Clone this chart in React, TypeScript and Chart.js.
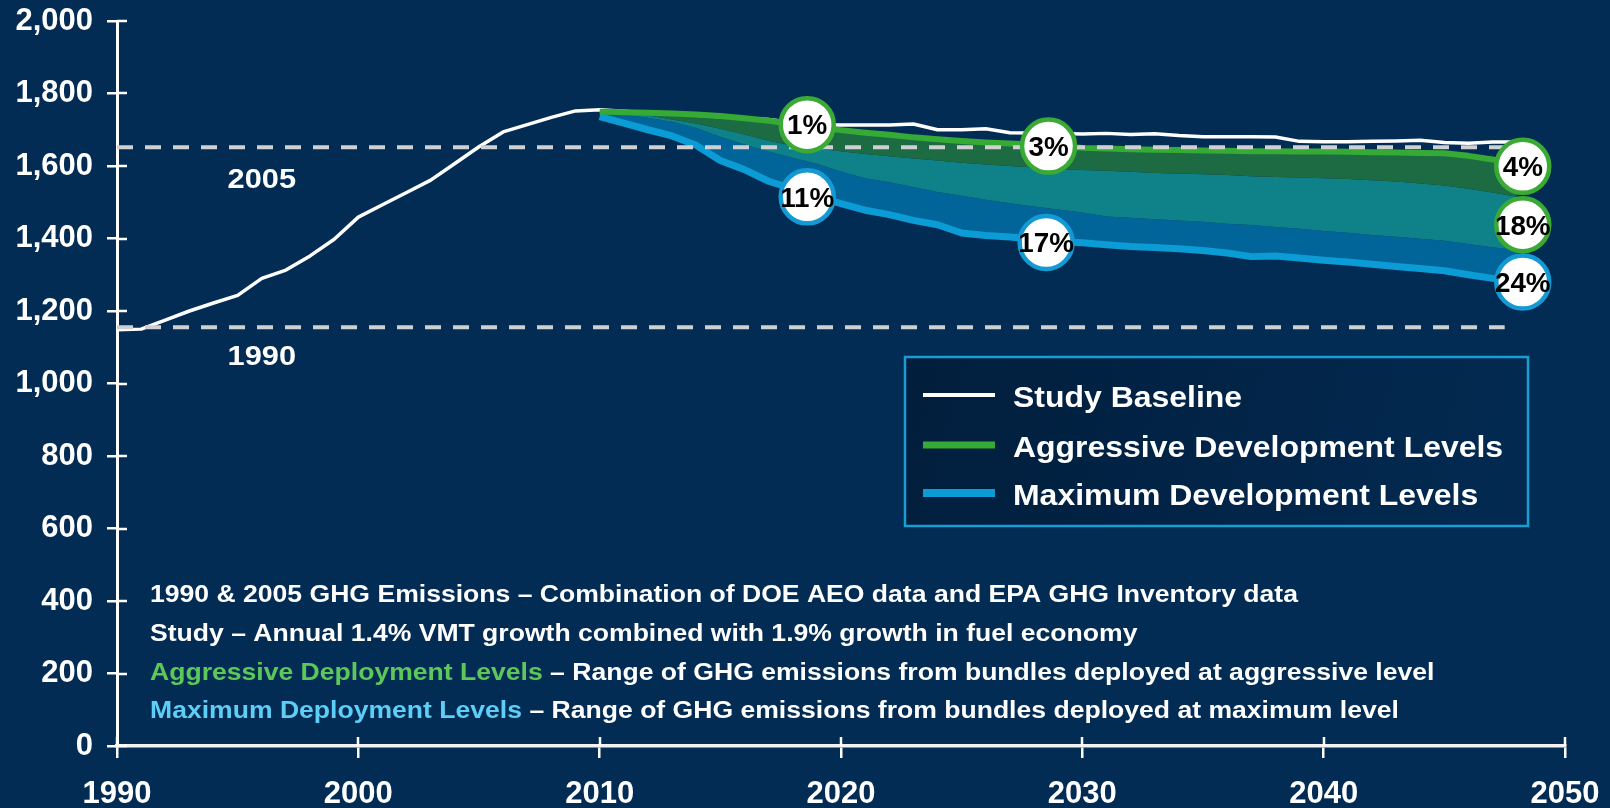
import React, { useEffect, useRef } from 'react';
import { Chart, registerables } from 'chart.js';

Chart.register(...registerables);

const FONT = '"Liberation Sans", Arial, Helvetica, sans-serif';

// ---- data ----
const historyYears = [1990, 1991, 1992, 1993, 1994, 1995, 1996, 1997, 1998, 1999, 2000, 2001, 2002, 2003, 2004, 2005, 2006, 2007, 2008, 2009];
const historyValues = [1148, 1150, 1175, 1200, 1222, 1243, 1290, 1313, 1352, 1398, 1459, 1493, 1527, 1561, 1607, 1653, 1694, 1714, 1734, 1752];

const projectionYears = [2010, 2011, 2012, 2013, 2014, 2015, 2016, 2017, 2018, 2019, 2020, 2021, 2022, 2023, 2024, 2025, 2026, 2027, 2028, 2029, 2030, 2031, 2032, 2033, 2034, 2035, 2036, 2037, 2038, 2039, 2040, 2041, 2042, 2043, 2044, 2045, 2046, 2047, 2048];
const baselineProjection = [1755, 1751, 1747, 1744, 1740, 1736, 1732, 1728, 1720, 1714, 1713, 1713, 1713, 1716, 1700, 1700, 1703, 1692, 1691, 1690, 1688, 1690, 1687, 1689, 1684, 1681, 1681, 1681, 1680, 1668, 1667, 1667, 1668, 1669, 1671, 1665, 1663, 1666, 1666];
const aggressiveHigh = [1750, 1748, 1747, 1745, 1742, 1738, 1732, 1725, 1716, 1707, 1699, 1692, 1686, 1679, 1674, 1669, 1665, 1662, 1659, 1655, 1650, 1648, 1646, 1645, 1644, 1643, 1642, 1641, 1641, 1640, 1640, 1639, 1638, 1637, 1636, 1635, 1628, 1618, 1608];
const maximumHigh = [1749, 1746, 1740, 1728, 1717, 1703, 1687, 1670, 1656, 1648, 1641, 1633, 1627, 1621, 1615, 1609, 1604, 1600, 1596, 1592, 1589, 1587, 1584, 1581, 1579, 1577, 1575, 1572, 1570, 1568, 1566, 1564, 1561, 1557, 1552, 1546, 1537, 1527, 1515];
const aggressiveLow = [1747, 1742, 1733, 1722, 1705, 1681, 1659, 1640, 1623, 1606, 1585, 1566, 1555, 1542, 1528, 1518, 1507, 1497, 1488, 1480, 1472, 1461, 1457, 1453, 1450, 1446, 1441, 1437, 1432, 1427, 1421, 1416, 1410, 1405, 1399, 1394, 1385, 1376, 1368];
const maximumLow = [1736, 1718, 1700, 1683, 1657, 1615, 1590, 1558, 1537, 1516, 1496, 1478, 1466, 1450, 1438, 1415, 1408, 1404, 1398, 1392, 1388, 1383, 1378, 1375, 1372, 1367, 1360, 1350, 1352, 1346, 1340, 1335, 1329, 1323, 1317, 1311, 1300, 1290, 1281];

const referenceYears = [1990, 2047.5];
const referenceLevels = [1155, 1652];
const referenceLabels = ['1990', '2005'];
const referenceLabelYears = [1996, 1996];
const referenceLabelValues = [1050, 1538];

const aggCircleYears = [2018.6, 2028.6, 2048.25, 2048.25];
const aggCircleValues = [1714, 1655, 1599, 1438];
const aggCircleLabels = ['1%', '3%', '4%', '18%'];
const maxCircleYears = [2018.6, 2028.5, 2048.25];
const maxCircleValues = [1515, 1389, 1280];
const maxCircleLabels = ['11%', '17%', '24%'];

const xMin = 1990;
const xMax = 2050;
const xStep = 10;
const yMin = 0;
const yMax = 2000;
const yStep = 200;

const legendLabels = ['Study Baseline', 'Aggressive Development Levels', 'Maximum Development Levels'];

const noteLines = [
  [{ t: '1990 & 2005 GHG Emissions \u2013 Combination of DOE AEO data and EPA GHG Inventory data', c: '#ffffff' }],
  [{ t: 'Study \u2013 Annual 1.4% VMT growth combined with 1.9% growth in fuel economy', c: '#ffffff' }],
  [
    { t: 'Aggressive Deployment Levels', c: '#5cc85a' },
    { t: ' \u2013 Range of GHG emissions from bundles deployed at aggressive level', c: '#ffffff' },
  ],
  [
    { t: 'Maximum Deployment Levels', c: '#5dcff7' },
    { t: ' \u2013 Range of GHG emissions from bundles deployed at maximum level', c: '#ffffff' },
  ],
];

// ---- styles / layout ----
const BG = '#032c55';
const WHITE = '#ffffff';
const GREEN = '#35aa34';
const BLUE = '#0b9bd5';
const DARK_GREEN_FILL = '#1d6b43';
const TEAL_FILL = '#0e8288';
const BLUE_FILL = '#02659a';
const DASH = '#cfd0d2';

const AREA_LEFT = 117;
const AREA_TOP = 21;
const AREA_RIGHT = 1565;
const AREA_BOTTOM = 746;
const W = 1610;
const H = 808;

const pts = (xs: number[], ys: number[]) => xs.map((x, i) => ({ x, y: ys[i] }));

function drawText(ctx: CanvasRenderingContext2D, text: string, x: number, y: number, size: number, sx: number, color: string, align: CanvasTextAlign = 'left') {
  ctx.save();
  ctx.font = `bold ${size}px ${FONT}`;
  ctx.fillStyle = color;
  ctx.textBaseline = 'alphabetic';
  ctx.textAlign = align;
  ctx.translate(x, y);
  ctx.scale(sx, 1);
  ctx.fillText(text, 0, 0);
  ctx.restore();
}

function textWidth(ctx: CanvasRenderingContext2D, text: string, size: number, sx: number) {
  ctx.save();
  ctx.font = `bold ${size}px ${FONT}`;
  const w = ctx.measureText(text).width * sx;
  ctx.restore();
  return w;
}

const bgPlugin = {
  id: 'bgPlugin',
  beforeDraw(chart: any) {
    const ctx = chart.ctx;
    ctx.save();
    ctx.fillStyle = BG;
    ctx.fillRect(0, 0, chart.width, chart.height);
    ctx.restore();
  },
};

const overlayPlugin = {
  id: 'overlayPlugin',
  afterDatasetsDraw(chart: any) {
    const ctx: CanvasRenderingContext2D = chart.ctx;
    const xs = chart.scales.x;
    const ys = chart.scales.y;
    const area = chart.chartArea;

    // inner halves of the crossing tick marks
    ctx.save();
    ctx.strokeStyle = WHITE;
    ctx.lineWidth = 2.5;
    for (let v = yMin; v <= yMax; v += yStep) {
      const py = Math.round(ys.getPixelForValue(v));
      ctx.beginPath();
      ctx.moveTo(area.left, py);
      ctx.lineTo(area.left + 10, py);
      ctx.stroke();
    }
    for (let v = xMin; v <= xMax; v += xStep) {
      const px = Math.round(xs.getPixelForValue(v));
      ctx.beginPath();
      ctx.moveTo(px, area.bottom);
      ctx.lineTo(px, area.bottom - 9);
      ctx.stroke();
    }
    ctx.restore();

    // reference labels
    referenceLabels.forEach((lab, i) => {
      drawText(ctx, lab, xs.getPixelForValue(referenceLabelYears[i]), ys.getPixelForValue(referenceLabelValues[i]), 28, 1.1, WHITE, 'center');
    });

    // circle labels
    const circleText = (years: number[], vals: number[], labels: string[]) => {
      labels.forEach((lab, i) => {
        const cx = xs.getPixelForValue(years[i]);
        const cy = ys.getPixelForValue(vals[i]);
        drawText(ctx, lab, cx, cy + 9.8, 27, 1.03, '#000000', 'center');
      });
    };
    circleText(aggCircleYears, aggCircleValues, aggCircleLabels);
    circleText(maxCircleYears, maxCircleValues, maxCircleLabels);

    // legend box
    const lx = 905, ly = 357, lw = 623, lh = 169;
    ctx.save();
    const g = ctx.createLinearGradient(lx, ly, lx + lw, ly + lh);
    g.addColorStop(0, '#011e3c');
    g.addColorStop(1, '#032a52');
    ctx.fillStyle = g;
    ctx.fillRect(lx, ly, lw, lh);
    ctx.strokeStyle = '#1a9dd3';
    ctx.lineWidth = 2.5;
    ctx.strokeRect(lx, ly, lw, lh);
    ctx.restore();
    const legendColors = [WHITE, GREEN, BLUE];
    const legendWidths = [4, 7, 8];
    const legendY = [395, 445, 493];
    legendLabels.forEach((lab, i) => {
      ctx.save();
      ctx.strokeStyle = legendColors[i];
      ctx.lineWidth = legendWidths[i];
      ctx.beginPath();
      ctx.moveTo(923, legendY[i]);
      ctx.lineTo(995, legendY[i]);
      ctx.stroke();
      ctx.restore();
      drawText(ctx, lab, 1013, legendY[i] + 12, 30, 1.065, WHITE);
    });

    // notes
    const noteSize = 23;
    const noteSx = 1.155;
    const noteBase = [602, 641, 680, 718];
    noteLines.forEach((segs, i) => {
      let x = 150;
      segs.forEach((s) => {
        drawText(ctx, s.t, x, noteBase[i], noteSize, noteSx, s.c);
        x += textWidth(ctx, s.t, noteSize, noteSx);
      });
    });
  },
};

export default function App() {
  const canvasRef = useRef<HTMLCanvasElement | null>(null);

  useEffect(() => {
    const canvas = canvasRef.current;
    if (!canvas) return;
    const baselineData = [...pts(historyYears, historyValues), ...pts(projectionYears, baselineProjection)];

    const chart = new Chart(canvas, {
      type: 'line',
      data: {
        datasets: [
          {
            label: 'Study Baseline',
            data: baselineData,
            borderColor: WHITE,
            borderWidth: 3.5,
            pointRadius: 0,
            fill: false,
            order: 6,
          },
          {
            label: 'Aggressive Development Levels (high)',
            data: pts(projectionYears, aggressiveHigh),
            borderColor: GREEN,
            borderWidth: 6,
            pointRadius: 0,
            fill: '+1',
            backgroundColor: DARK_GREEN_FILL,
            order: 2,
          },
          {
            label: 'Maximum Development Levels (high)',
            data: pts(projectionYears, maximumHigh),
            borderColor: 'rgba(0,0,0,0)',
            borderWidth: 0,
            pointRadius: 0,
            fill: '+1',
            backgroundColor: TEAL_FILL,
            order: 4,
          },
          {
            label: 'Aggressive Development Levels (low)',
            data: pts(projectionYears, aggressiveLow),
            borderColor: 'rgba(0,0,0,0)',
            borderWidth: 0,
            pointRadius: 0,
            fill: '+1',
            backgroundColor: BLUE_FILL,
            order: 4,
          },
          {
            label: 'Maximum Development Levels (low)',
            data: pts(projectionYears, maximumLow),
            borderColor: BLUE,
            borderWidth: 7,
            pointRadius: 0,
            fill: false,
            order: 3,
          },
          {
            label: '2005 level',
            data: pts(referenceYears, [referenceLevels[1], referenceLevels[1]]),
            borderColor: DASH,
            borderWidth: 4,
            borderDash: [16, 12],
            pointRadius: 0,
            fill: false,
            order: 1,
          },
          {
            label: '1990 level',
            data: pts(referenceYears, [referenceLevels[0], referenceLevels[0]]),
            borderColor: DASH,
            borderWidth: 4,
            borderDash: [16, 12],
            pointRadius: 0,
            fill: false,
            order: 1,
          },
          {
            label: 'Aggressive reductions',
            data: pts(aggCircleYears, aggCircleValues),
            showLine: false,
            pointRadius: 26.5,
            pointBorderWidth: 4.5,
            pointBackgroundColor: WHITE,
            pointBorderColor: '#3aaa35',
            fill: false,
            order: 0,
          },
          {
            label: 'Maximum reductions',
            data: pts(maxCircleYears, maxCircleValues),
            showLine: false,
            pointRadius: 26.5,
            pointBorderWidth: 4.5,
            pointBackgroundColor: WHITE,
            pointBorderColor: '#1499d3',
            fill: false,
            order: 0,
          },
        ] as any,
      },
      options: {
        responsive: false,
        animation: false,
        devicePixelRatio: 1,
        events: [],
        layout: { autoPadding: false, padding: { top: AREA_TOP, right: W - AREA_RIGHT, left: 0, bottom: 0 } },
        elements: { line: { tension: 0, borderJoinStyle: 'round', borderCapStyle: 'butt' } },
        plugins: {
          legend: { display: false },
          tooltip: { enabled: false },
          filler: { drawTime: 'beforeDatasetsDraw' },
        },
        scales: {
          x: {
            type: 'linear',
            min: xMin,
            max: xMax,
            ticks: {
              stepSize: xStep,
              color: WHITE,
              font: { family: FONT, size: 31, weight: 'bold' },
              padding: 18,
              maxRotation: 0,
              autoSkip: false,
              callback: (v: any) => String(v),
            },
            grid: { display: true, drawOnChartArea: false, drawTicks: true, tickLength: 12, color: WHITE, lineWidth: 2.5 },
            border: { display: true, color: '#f2f2f2', width: 3.5 },
            afterFit: (s: any) => { s.height = H - AREA_BOTTOM; s.paddingLeft = 0; s.paddingRight = 0; },
          },
          y: {
            min: yMin,
            max: yMax,
            ticks: {
              stepSize: yStep,
              color: WHITE,
              font: { family: FONT, size: 31, weight: 'bold' },
              padding: 14,
              callback: (v: any) => Number(v).toLocaleString('en-US'),
            },
            grid: { display: true, drawOnChartArea: false, drawTicks: true, tickLength: 10, color: WHITE, lineWidth: 2.5 },
            border: { display: true, color: WHITE, width: 3 },
            afterFit: (s: any) => { s.width = AREA_LEFT; s.paddingTop = 0; s.paddingBottom = 0; },
          },
        },
      } as any,
      plugins: [bgPlugin, overlayPlugin],
    });

    // nudge the layout padding so the plot area lands where the reference has it
    for (let k = 0; k < 4; k++) {
      const ca = chart.chartArea;
      const dt = AREA_TOP - ca.top;
      const dr = AREA_RIGHT - ca.right;
      if (Math.abs(dt) < 0.5 && Math.abs(dr) < 0.5) break;
      const p: any = chart.options.layout.padding;
      chart.options.layout.padding = {
        top: Math.max(0, p.top + dt),
        right: Math.max(0, p.right - dr),
        left: 0,
        bottom: 0,
      } as any;
      chart.update();
    }

    return () => chart.destroy();
  }, []);

  return (
    <div style={{ position: 'fixed', left: 0, top: 0, width: W, height: H, background: BG }}>
      <canvas ref={canvasRef} width={W} height={H} style={{ display: 'block' }} />
    </div>
  );
}
